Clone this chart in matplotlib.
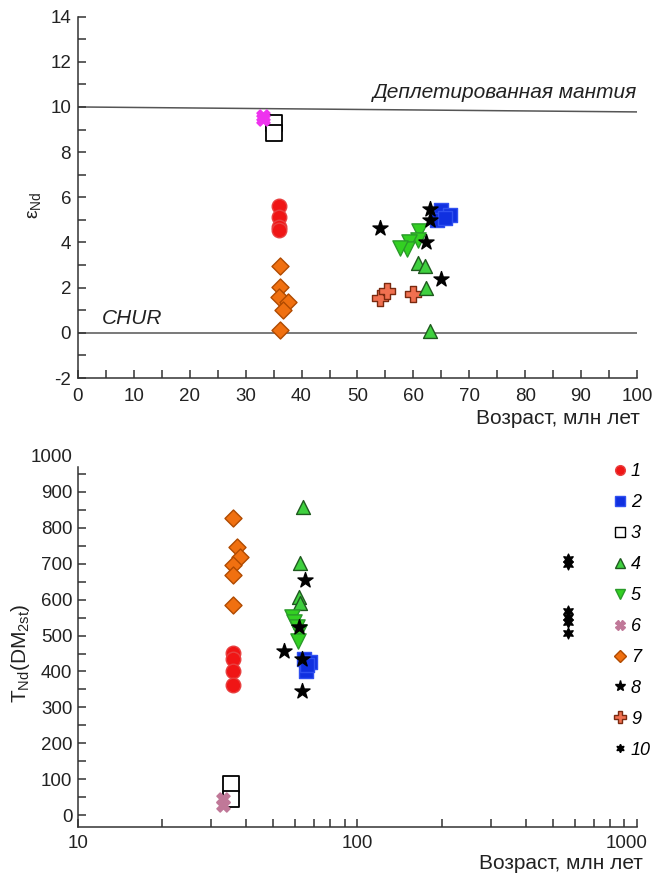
import matplotlib
matplotlib.use("Agg")
import matplotlib.pyplot as plt
from matplotlib.ticker import MultipleLocator, FixedLocator, NullFormatter
from matplotlib.lines import Line2D
from matplotlib.transforms import ScaledTranslation

plt.rcParams['font.family'] = ['Liberation Sans', 'DejaVu Sans']
plt.rcParams['mathtext.fontset'] = 'custom'
plt.rcParams['mathtext.rm'] = 'Liberation Sans'
plt.rcParams['mathtext.it'] = 'Liberation Sans:italic'
plt.rcParams['axes.unicode_minus'] = False

# ---------------- top panel data: age (Ma), eps Nd ----------------
s1_age = [36.0, 36.0, 36.0, 36.0]
s1_eps = [5.6, 5.15, 4.7, 4.55]
s2_age = [65.0, 66.5, 64.3, 65.6]
s2_eps = [5.45, 5.2, 5.0, 5.1]
s3_age = [35.1, 35.1]
s3_eps = [9.3, 8.85]
s4_age = [60.9, 62.1, 62.2, 63.0]
s4_eps = [3.08, 2.98, 2.0, 0.06]
s5_age = [61.0, 60.8, 59.2, 58.8, 57.7]
s5_eps = [4.5, 4.1, 4.0, 3.7, 3.75]
s6_age = [33.1, 33.1]
s6_eps = [9.6, 9.45]
s7_age = [36.1, 36.1, 36.0, 37.6, 36.7, 36.1]
s7_eps = [2.98, 2.05, 1.6, 1.35, 1.0, 0.13]
s8_age = [54.0, 62.9, 63.0, 62.3, 65.0]
s8_eps = [4.65, 5.5, 5.0, 4.0, 2.4]
s9_age = [54.0, 55.2, 60.0]
s9_eps = [1.55, 1.83, 1.73]

dm_age = [0, 100]
dm_eps = [10.0, 9.78]
chur_age = [0, 100]
chur_eps = [0, 0]

# ---------------- bottom panel data: age (Ma), T_Nd(DM2st) ----------------
b1_age = [36.0, 36.0, 36.0, 36.0]
b1_t = [452, 436, 401, 361]
b2_age = [64.5, 67.5, 65.5, 66.0]
b2_t = [436, 427, 400, 418]
b3_age = [35.3, 35.3]
b3_t = [88, 46]
b4_age = [63.9, 62.1, 61.6, 62.3]
b4_t = [857, 701, 608, 592]
b5_age = [58.5, 59.5, 61.0, 62.0, 61.5]
b5_t = [552, 538, 525, 510, 485]
b6_age = [33.0, 33.0]
b6_t = [46, 28]
b7_age = [36.0, 37.1, 38.1, 35.8, 36.0, 36.0]
b7_t = [826, 747, 720, 696, 669, 585]
b8_age = [65.1, 54.4, 63.3, 63.3, 62.0]
b8_t = [656, 457, 436, 346, 524]
b10_age = [566, 566, 566, 566, 566, 566]
b10_t = [712, 698, 568, 553, 538, 508]

legend_labels = ['1', '2', '3', '4', '5', '6', '7', '8', '9', '10']

# styles
ST = {
    1: dict(marker='o', color='#f01515', edgecolor='#e84040', s=110),
    2: dict(marker='s', color='#1030e0', edgecolor='#3050f0', s=110),
    3: dict(marker='s', color='white', edgecolor='black', s=120, linewidths=1.3),
    4: dict(marker='^', color='#3fd03f', edgecolor='#1f5a1f', s=100),
    5: dict(marker='v', color='#33d022', edgecolor='#2a9a2a', s=120),
    6: dict(marker='X', color='#ee33ee', edgecolor='#ee33ee', s=90),
    7: dict(marker='D', color='#f07010', edgecolor='#b04a00', s=75),
    8: dict(marker='*', color='black', edgecolor='black', s=130),
    9: dict(marker='P', color='#f07050', edgecolor='#7a2a10', s=120),
    10: dict(marker=(6, 1, 0), color='black', edgecolor='black', s=60),
}

fig = plt.figure(figsize=(6.53, 8.74), dpi=100)

# ================= top panel =================
ax1 = fig.add_axes([0.1194, 0.5675, 0.856, 0.4135])
ax1.plot(dm_age, dm_eps, color='#555555', lw=1.1, zorder=1)
ax1.plot(chur_age, chur_eps, color='#555555', lw=1.1, zorder=1)

def sc(ax, x, y, k, **over):
    d = dict(ST[k])
    d.update(over)
    ax.scatter(x, y, zorder=3, **d)

sc(ax1, s7_age, s7_eps, 7)
sc(ax1, s1_age, s1_eps, 1)
sc(ax1, s3_age, s3_eps, 3)
sc(ax1, s6_age, s6_eps, 6)
sc(ax1, s9_age, s9_eps, 9)
sc(ax1, s4_age, s4_eps, 4)
sc(ax1, s5_age, s5_eps, 5)
sc(ax1, s2_age, s2_eps, 2)
sc(ax1, s8_age, s8_eps, 8)

ax1.set_xlim(0, 100)
ax1.set_ylim(-2, 14)
ax1.xaxis.set_major_locator(MultipleLocator(10))
ax1.xaxis.set_minor_locator(MultipleLocator(5))
ax1.yaxis.set_major_locator(MultipleLocator(2))
ax1.yaxis.set_minor_locator(MultipleLocator(1))
for sp in ['top', 'right']:
    ax1.spines[sp].set_visible(False)
for sp in ['left', 'bottom']:
    ax1.spines[sp].set_linewidth(1.1)
    ax1.spines[sp].set_color('#333333')
ax1.tick_params(which='both', direction='in', length=6, width=1.1, color='#333333',
                labelsize=13.5, labelcolor='#222222')
ax1.tick_params(axis='x', which='major', pad=7)
ax1.tick_params(axis='y', which='major', pad=5)

ax1.text(100, 10.2, 'Деплетированная мантия', style='italic', fontsize=15,
         ha='right', va='bottom', color='#222222')
ax1.text(4.3, 0.2, 'CHUR', style='italic', fontsize=15, ha='left', va='bottom',
         color='#222222')
ax1.set_ylabel(r'ε$_{\mathrm{Nd}}$', fontsize=14, color='#222222')
ax1.yaxis.set_label_coords(-0.063, 0.479)
ax1.set_xlabel('Возраст, млн лет', fontsize=15, color='#222222', ha='right')
ax1.xaxis.set_label_coords(1.005, -0.085)

# ================= bottom panel =================
ax2 = fig.add_axes([0.1194, 0.0538, 0.856, 0.4245])
ax2.set_xscale('log')

sc(ax2, b7_age, b7_t, 7)
sc(ax2, b1_age, b1_t, 1)
sc(ax2, b3_age, b3_t, 3)
sc(ax2, b6_age, b6_t, 6, color='#c07898', edgecolor='#c07898')
sc(ax2, b4_age, b4_t, 4)
sc(ax2, b5_age, b5_t, 5)
sc(ax2, b2_age, b2_t, 2)
sc(ax2, b8_age, b8_t, 8)
sc(ax2, b10_age, b10_t, 10)

ax2.set_xlim(10, 1000)
ax2.set_ylim(-33, 1000)
ax2.spines['left'].set_bounds(-33, 969)
ax2.yaxis.set_major_locator(FixedLocator(list(range(0, 1001, 100))))
ax2.yaxis.set_minor_locator(FixedLocator(list(range(50, 1000, 100))))
ax2.xaxis.set_major_locator(FixedLocator([10, 100, 1000]))
ax2.xaxis.set_minor_locator(FixedLocator([20, 30, 40, 50, 60, 70, 80, 90,
                                          200, 300, 400, 500, 600, 700, 800, 900]))
ax2.xaxis.set_minor_formatter(NullFormatter())
ax2.set_xticklabels(['10', '100', '1000'])
for sp in ['top', 'right']:
    ax2.spines[sp].set_visible(False)
for sp in ['left', 'bottom']:
    ax2.spines[sp].set_linewidth(1.1)
    ax2.spines[sp].set_color('#333333')
ax2.tick_params(which='both', direction='in', length=6, width=1.1, color='#333333',
                labelsize=13.5, labelcolor='#222222')
ax2.tick_params(axis='x', which='major', pad=6)
ax2.tick_params(axis='y', which='major', pad=4)
ax2.yaxis.get_major_ticks()[-1].tick1line.set_visible(False)
lab1000 = ax2.xaxis.get_major_ticks()[-1].label1
lab1000.set_transform(lab1000.get_transform() +
                      ScaledTranslation(-0.10, 0, fig.dpi_scale_trans))

ax2.set_ylabel(r'T$_{\mathrm{Nd}}$(DM$_{\mathrm{2st}}$)', fontsize=15, color='#222222')
ax2.yaxis.set_label_coords(-0.083, 0.469)
ax2.set_xlabel('Возраст, млн лет', fontsize=15, color='#222222', ha='right')
ax2.xaxis.set_label_coords(1.011, -0.072)

handles = []
for k in range(1, 11):
    d = ST[k]
    fc = d['color']
    ec = d['edgecolor']
    if k == 6:
        fc = ec = '#c07898'
    ms = {1: 7, 2: 7, 3: 7, 4: 7, 5: 7, 6: 7, 7: 6, 8: 8, 9: 8, 10: 6}[k]
    handles.append(Line2D([], [], ls='none', marker=d['marker'], markersize=ms,
                          markerfacecolor=fc, markeredgecolor=ec,
                          markeredgewidth=1.0))
leg = fig.legend(handles, legend_labels, loc='upper left',
                 bbox_to_anchor=(0.9387, 0.4697), frameon=False,
                 prop={'style': 'italic', 'size': 13}, handlelength=0.8,
                 handletextpad=0.2, labelspacing=0.77, borderpad=0,
                 borderaxespad=0)

fig.savefig('out.png', dpi=100)
